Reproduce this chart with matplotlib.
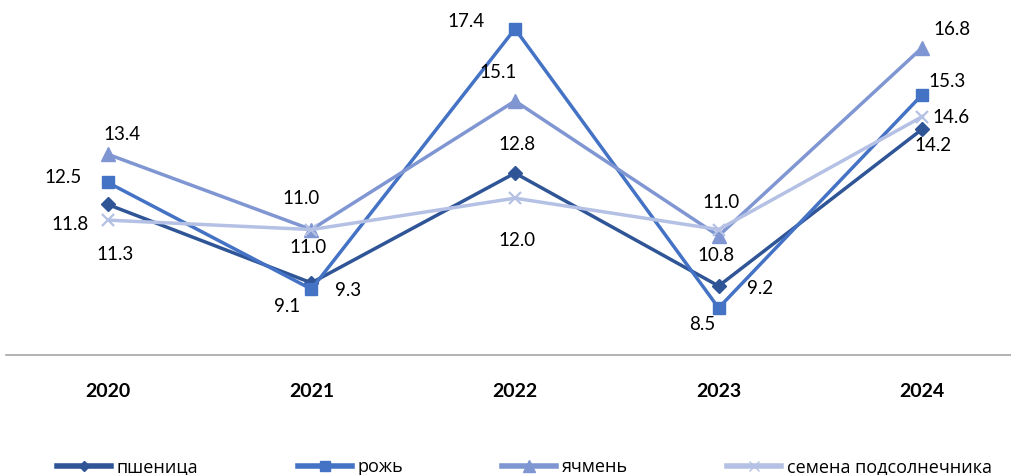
import matplotlib.pyplot as plt
from matplotlib.lines import Line2D

years = ["2020", "2021", "2022", "2023", "2024"]
wheat = [11.8, 9.3, 12.8, 9.2, 14.2]
rye = [12.5, 9.1, 17.4, 8.5, 15.3]
barley = [13.4, 11.0, 15.1, 10.8, 16.8]
sunflower = [11.3, 11.0, 12.0, 11.0, 14.6]
names = ["пшеница", "рожь", "ячмень", "семена подсолнечника"]

# стиль серий
series = [
    (wheat, "#2F5597", "D", 7),
    (rye, "#4472C4", "s", 9),
    (barley, "#7F96D2", "^", 10),
    (sunflower, "#B4C1E4", "x", 9),
]

# смещения подписей в пикселях (dx, dy вниз)
label_off = [
    [(-38, 20), (37, 8), (2, -29), (41, 2), (11, 16)],
    [(-45, -5), (-24, 17), (-49, -7), (-16, 17), (25, -13)],
    [(14, -20), (-10, -31), (-17, -28), (-3, 20), (30, -18)],
    [(7, 34), (-3, 18), (2, 42), (2, -27), (29, 1)],
]

plt.rcParams['font.family'] = ['Lato', 'DejaVu Sans']

fig = plt.figure(figsize=(10.11, 4.75), dpi=100)
ax = fig.add_axes([6 / 1011, 120 / 475, 1018 / 1011, 345 / 475])

x = range(len(years))
for (vals, col, mk, ms), offs in zip(series, label_off):
    ax.plot(x, vals, color=col, lw=2.5, marker=mk, ms=ms, mew=1.6 if mk == "x" else 1,
            mec=col, mfc=col, zorder=3)
    for i, v in enumerate(vals):
        ax.annotate(f"{v:.1f}", (i, v), xytext=(offs[i][0], -offs[i][1]),
                    textcoords="offset pixels", ha="center", va="center",
                    fontsize=13.5, color="#000000")

ax.set_xlim(-0.5, 4.5)
ax.set_ylim(7, 18)
ax.set_yticks([])
ax.set_xticks(list(x))
ax.set_xticklabels(years, fontsize=14, fontweight="bold")
ax.tick_params(axis="x", length=0, pad=20)
for s in ["top", "left", "right"]:
    ax.spines[s].set_visible(False)
ax.spines["bottom"].set_color("#A6A6A6")
ax.spines["bottom"].set_linewidth(1.2)

handles = [Line2D([], [], color=c, lw=4, marker=m, ms=ms * 0.8, mec=c, mfc=c)
           for _, c, m, ms in series]
fig.legend(handles, names, loc="center left", bbox_to_anchor=(57 / 1011, 8 / 475),
           ncol=4, frameon=False, handlelength=3.0, handletextpad=0.3,
           columnspacing=5.5, borderaxespad=0, borderpad=0,
           prop={"family": ["Open Sans", "DejaVu Sans"], "size": 13})

fig.savefig("out.png", dpi=100)
